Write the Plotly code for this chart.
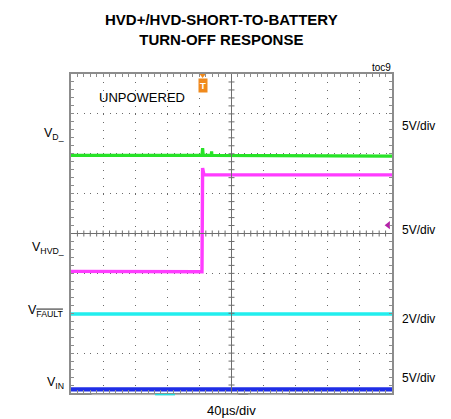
import plotly.graph_objects as go

# ---- data (time and level in scope divisions) ----
t_green = [0, 4.08, 4.10, 4.12, 4.37, 4.38, 4.39, 10]
v_green = [5.96, 5.96, 6.14, 5.96, 5.96, 6.06, 5.96, 5.94]

t_hvd = [0, 4.08, 4.10, 4.14, 10]
v_hvd = [3.05, 3.04, 5.64, 5.47, 5.47]

t_fault = [0, 10]
v_fault = [1.98, 1.98]

t_vin = [0, 10]
v_vin = [0.09, 0.09]

trigger_t = [4.10]
hvd_ref_level = [4.21]

left_labels = ["V<sub>D_</sub>", "V<sub>HVD_</sub>",
               "V<sub><span style='text-decoration:overline'>FAULT</span></sub>",
               "V<sub>IN</sub>"]
right_labels = ["5V/div", "5V/div", "2V/div", "5V/div"]

# ---- geometry helpers ----
W, H = 451, 419
L, R, T, B = 71, 392, 74, 393
def px(x):
    return (x - L) / (R - L)
def py(y):
    return (B - y) / (B - T)

FONT = "Arial, Liberation Sans, sans-serif"

fig = go.Figure()

fig.add_trace(go.Scatter(x=t_green, y=v_green, mode="lines",
                         line=dict(color="#27e327", width=3.2), hoverinfo="skip"))
fig.add_trace(go.Scatter(x=t_hvd, y=v_hvd, mode="lines",
                         line=dict(color="#ff3cff", width=3.4), hoverinfo="skip"))
fig.add_trace(go.Scatter(x=t_fault, y=v_fault, mode="lines",
                         line=dict(color="#22eeee", width=3.6), hoverinfo="skip"))
fig.add_trace(go.Scatter(x=t_vin, y=v_vin, mode="lines",
                         line=dict(color="#1f2ee6", width=4.2), hoverinfo="skip"))

# trigger marker at top
fig.add_trace(go.Scatter(x=trigger_t, y=[8], mode="markers",
                         marker=dict(symbol="triangle-down", size=8, color="#f08a1c"),
                         cliponaxis=False, hoverinfo="skip"))
# HVD reference level marker at right edge
fig.add_trace(go.Scatter(x=[9.88], y=hvd_ref_level, mode="markers",
                         marker=dict(symbol="triangle-left", size=7, color="#b423a8"),
                         cliponaxis=False, hoverinfo="skip"))

shapes = []
# center cross lines
shapes.append(dict(type="line", xref="x", yref="y", x0=5, x1=5, y0=0, y1=8,
                   line=dict(color="#6e6e6e", width=1)))
shapes.append(dict(type="line", xref="x", yref="y", x0=0, x1=10, y0=4, y1=4,
                   line=dict(color="#6e6e6e", width=1)))
# minor ticks on center lines
for i in range(1, 50):
    xv = i * 0.2
    shapes.append(dict(type="line", xref="x", yref="y", ysizemode="pixel", yanchor=4,
                       x0=xv, x1=xv, y0=-3, y1=3, line=dict(color="#6e6e6e", width=1)))
for i in range(1, 40):
    yv = i * 0.2
    shapes.append(dict(type="line", xref="x", yref="y", xsizemode="pixel", xanchor=5,
                       y0=yv, y1=yv, x0=-3, x1=3, line=dict(color="#6e6e6e", width=1)))
# scope status strips under the plot
shapes.append(dict(type="line", xref="x", yref="paper", x0=0.645, x1=5.21, y0=-0.005, y1=-0.005,
                   line=dict(color="#b8b8b8", width=1)))
shapes.append(dict(type="line", xref="x", yref="paper", x0=5.52, x1=6.77, y0=-0.005, y1=-0.005,
                   line=dict(color="#b8b8b8", width=1)))
shapes.append(dict(type="line", xref="x", yref="paper", x0=2.62, x1=3.24, y0=-0.005, y1=-0.005,
                   line=dict(color="#22dddd", width=1.5)))

annotations = []
annotations.append(dict(text="<b>HVD+/HVD-SHORT-TO-BATTERY</b><br><b>TURN-OFF RESPONSE</b>",
                        xref="paper", yref="paper", x=px(221), y=py(29),
                        xanchor="center", yanchor="middle", showarrow=False,
                        font=dict(family=FONT, size=15, color="#000")))
annotations.append(dict(text="toc9", xref="paper", yref="paper", x=px(393), y=py(67),
                        xanchor="right", yanchor="middle", showarrow=False,
                        font=dict(family=FONT, size=10, color="#000")))
annotations.append(dict(text="UNPOWERED", xref="paper", yref="paper", x=px(97), y=py(97),
                        xanchor="left", yanchor="middle", showarrow=False,
                        font=dict(family=FONT, size=13, color="#000")))
annotations.append(dict(text="40µs/div", xref="paper", yref="paper", x=px(232), y=py(410),
                        xanchor="center", yanchor="middle", showarrow=False,
                        font=dict(family=FONT, size=13, color="#000")))
# trigger T badge
annotations.append(dict(text="<b>T</b>", xref="x", yref="paper", x=trigger_t[0], y=py(86),
                        xanchor="center", yanchor="middle", showarrow=False,
                        bgcolor="#f08a1c", borderpad=1,
                        font=dict(family=FONT, size=9.5, color="#ffffff")))

left_y = [134, 248, 311, 383]
for lab, yy in zip(left_labels, left_y):
    annotations.append(dict(text=lab, xref="paper", yref="paper", x=px(66), y=py(yy),
                            xanchor="right", yanchor="middle", showarrow=False,
                            font=dict(family=FONT, size=12.5, color="#000")))
right_y = [126, 230, 318.5, 377.5]
for lab, yy in zip(right_labels, right_y):
    annotations.append(dict(text=lab, xref="paper", yref="paper", x=px(400), y=py(yy),
                            xanchor="left", yanchor="middle", showarrow=False,
                            font=dict(family=FONT, size=12, color="#000")))

fig.update_layout(
    width=W, height=H,
    margin=dict(l=L, r=W - R, t=T, b=H - B, pad=0),
    paper_bgcolor="white", plot_bgcolor="white",
    showlegend=False,
    shapes=shapes, annotations=annotations,
    xaxis=dict(range=[0, 10], dtick=1, tick0=0, showticklabels=False,
               showgrid=True, gridcolor="#6a6a6a", gridwidth=1, griddash="1px,6.975px",
               zeroline=False, showline=True, linecolor="#8c8c8c", linewidth=1.5,
               mirror="ticks", ticks="inside", ticklen=3, tickcolor="#8c8c8c",
               minor=dict(ticks="inside", dtick=0.2, ticklen=3, tickcolor="#8c8c8c", showgrid=False),
               fixedrange=True),
    yaxis=dict(range=[0, 8], dtick=1, tick0=0, showticklabels=False,
               showgrid=True, gridcolor="#6a6a6a", gridwidth=1, griddash="1px,5.42px",
               zeroline=False, showline=True, linecolor="#8c8c8c", linewidth=1.5,
               mirror="ticks", ticks="inside", ticklen=3, tickcolor="#8c8c8c",
               minor=dict(ticks="inside", dtick=0.2, ticklen=3, tickcolor="#8c8c8c", showgrid=False),
               fixedrange=True),
)

fig.write_html("out.html", config={"displayModeBar": False},
               post_script="document.body.style.margin='0';document.body.style.overflow='hidden';")
